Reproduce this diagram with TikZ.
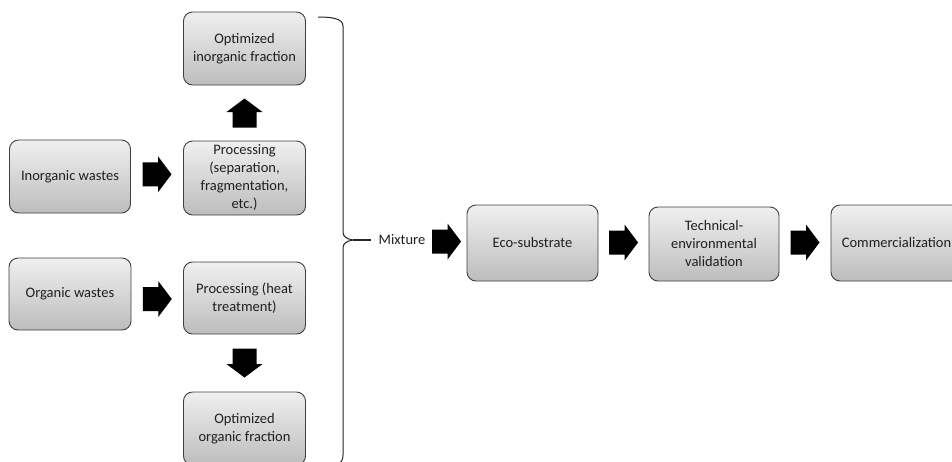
\documentclass[tikz,border=0pt]{standalone}
\usepackage{fontspec}
\setmainfont{Carlito}
\usetikzlibrary{calc}
\begin{document}
\begin{tikzpicture}[x=1pt,y=-1pt,
  box/.style={draw=black!75, line width=0.9pt, rounded corners=9pt,
    top color=black!6, bottom color=black!26, align=center,
    inner sep=2pt, text=black!88, font=\fontsize{14.5}{18}\selectfont},
  barrow/.pic={\fill[black] (-14.5,-12) -- (1,-12) -- (1,-18) -- (14.5,0) -- (1,18) -- (1,12) -- (-14.5,12) -- cycle;},
  lbl/.style={text=black!88, font=\fontsize{14.5}{18}\selectfont, inner sep=1pt}]
\useasboundingbox (0,0) rectangle (952,461);
\clip (0,0) rectangle (952,461);
\fill[white] (0,0) rectangle (952,461);
% boxes
\node[box, minimum width=122pt, minimum height=73pt] (oif) at (244.5,48.5) {Optimized\\inorganic fraction};
\node[box, minimum width=121pt, minimum height=73pt] (inw) at (70,176.5) {Inorganic wastes};
\node[box, minimum width=122pt, minimum height=74pt] (proc1) at (244.5,178) {Processing\\(separation,\\fragmentation,\\etc.)};
\node[box, minimum width=122pt, minimum height=72pt] (orw) at (70,294) {Organic wastes};
\node[box, minimum width=122pt, minimum height=72pt] (proc2) at (244.5,298) {Processing (heat\\treatment)};
\node[box, minimum width=122pt, minimum height=73pt] (oof) at (244.5,428.5) {Optimized\\organic fraction};
\node[lbl] (mix) at (402,240) {Mixture};
\node[box, minimum width=131pt, minimum height=76pt] (eco) at (532.5,243) {Eco-substrate};
\node[box, minimum width=130pt, minimum height=74pt] (tech) at (714,244) {Technical-\\environmental\\validation};
\node[box, minimum width=131pt, minimum height=76pt] (comm) at (896.5,243) {Commercialization};
% block arrows
\pic[rotate=90] at ($(proc1.north)!0.5!(oif.south)$) {barrow};
\pic at ($(inw.east)!0.5!(proc1.west)+(0,-3)$) {barrow};
\pic at ($(orw.east)!0.5!(proc2.west)+(0,3)$) {barrow};
\pic[rotate=-90] at ($(proc2.south)!0.5!(oof.north)$) {barrow};
\pic at ($(mix.east)!0.5!(eco.west)$) {barrow};
\pic at ($(eco.east)!0.5!(tech.west)+(0,-1)$) {barrow};
\pic at ($(tech.east)!0.5!(comm.west)+(0,-1)$) {barrow};
% brace
\coordinate (btop) at (318,17);
\coordinate (bbot) at (318,468);
\coordinate (btip) at (353,240);
\coordinate (bend) at ($(mix.west)+(-7,0)$);
\draw[black!85, line width=1pt] (btop) .. controls (330,17) and (343,18) .. (343,26)
  -- (343,232) .. controls (343,237) and (347,239) .. (btip)
  .. controls (347,241) and (343,243) .. (343,248)
  -- (343,455) .. controls (343,463) and (338,468) .. (bbot);
\draw[black!85, line width=1.3pt] (btip) -- (bend);
\end{tikzpicture}
\end{document}
